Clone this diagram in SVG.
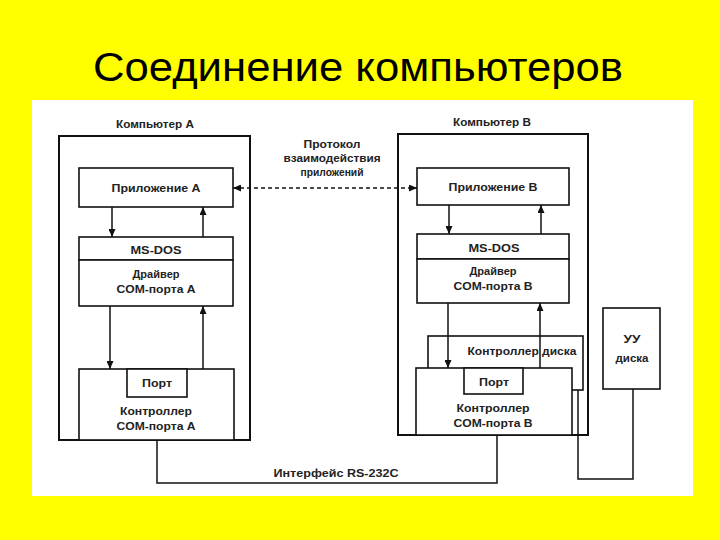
<svg xmlns="http://www.w3.org/2000/svg" width="720" height="540" viewBox="0 0 720 540">
<defs>
<marker id="ah" markerUnits="userSpaceOnUse" markerWidth="9" markerHeight="7" refX="8" refY="3.5" orient="auto-start-reverse">
<path d="M0,0 L8,3.5 L0,7 z" fill="#111"/>
</marker>
</defs>
<style>
.bg{fill:#FFFF00}
.panel{fill:#FFFFFF}
.title{font-family:"Liberation Sans",Arial,sans-serif;font-size:40px;fill:#000}
.outer{fill:none;stroke:#111;stroke-width:2}
.box{fill:#FFFFFF;stroke:#111;stroke-width:1.6}
.t{font-family:"Liberation Sans",Arial,sans-serif;font-size:11.5px;font-weight:bold;fill:#222;text-anchor:middle}
.c{fill:none;stroke:#111;stroke-width:1.5}
.arr{marker-end:url(#ah)}
.dash{stroke-dasharray:4 3;marker-start:url(#ah);marker-end:url(#ah)}
</style>
<rect class="bg" x="0" y="0" width="720" height="540"/>
<text class="title" x="93" y="81" textLength="530" lengthAdjust="spacingAndGlyphs">Соединение компьютеров</text>
<rect class="panel" x="32" y="100" width="661" height="396"/>

<g id="computerA">
<rect class="outer" x="59" y="136" width="191" height="304"/>
<text class="t" x="155" y="128" textLength="78" lengthAdjust="spacingAndGlyphs">Компьютер А</text>
</g>
<g id="appA">
<rect class="box" x="79" y="168" width="154" height="39"/>
<text class="t" x="156" y="192" textLength="89" lengthAdjust="spacingAndGlyphs">Приложение А</text>
</g>
<g id="dosA">
<rect class="box" x="79" y="237" width="154" height="23"/>
<text class="t" x="156" y="254" textLength="51" lengthAdjust="spacingAndGlyphs">MS-DOS</text>
</g>
<g id="driverA">
<rect class="box" x="79" y="260" width="154" height="46"/>
<text class="t" x="156" y="278" textLength="47" lengthAdjust="spacingAndGlyphs">Драйвер</text>
<text class="t" x="156" y="293" textLength="79" lengthAdjust="spacingAndGlyphs">COM-порта А</text>
</g>
<g id="controllerA">
<rect class="box" x="79" y="369" width="155" height="71"/>
<text class="t" x="156" y="415" textLength="72" lengthAdjust="spacingAndGlyphs">Контроллер</text>
<text class="t" x="156" y="430" textLength="79" lengthAdjust="spacingAndGlyphs">COM-порта А</text>
</g>
<g id="portA">
<rect class="box" x="127" y="369" width="60" height="28"/>
<text class="t" x="157" y="387" textLength="30" lengthAdjust="spacingAndGlyphs">Порт</text>
</g>

<g id="computerB">
<rect class="outer" x="398" y="134" width="190" height="301"/>
<text class="t" x="492" y="126" textLength="78" lengthAdjust="spacingAndGlyphs">Компьютер В</text>
</g>
<g id="appB">
<rect class="box" x="417" y="168" width="152" height="37"/>
<text class="t" x="493" y="191" textLength="89" lengthAdjust="spacingAndGlyphs">Приложение В</text>
</g>
<g id="dosB">
<rect class="box" x="417" y="234" width="152" height="25"/>
<text class="t" x="494" y="252" textLength="51" lengthAdjust="spacingAndGlyphs">MS-DOS</text>
</g>
<g id="driverB">
<rect class="box" x="417" y="259" width="152" height="44"/>
<text class="t" x="493" y="275" textLength="47" lengthAdjust="spacingAndGlyphs">Драйвер</text>
<text class="t" x="493" y="290" textLength="79" lengthAdjust="spacingAndGlyphs">COM-порта В</text>
</g>
<g id="diskController">
<rect class="box" x="428" y="336" width="155" height="54"/>
<text class="t" x="522" y="355" textLength="109" lengthAdjust="spacingAndGlyphs">Контроллер диска</text>
</g>
<g id="controllerB">
<rect class="box" x="416" y="368" width="156" height="67"/>
<text class="t" x="493" y="412" textLength="73" lengthAdjust="spacingAndGlyphs">Контроллер</text>
<text class="t" x="493" y="427" textLength="79" lengthAdjust="spacingAndGlyphs">COM-порта В</text>
</g>
<g id="portB">
<rect class="box" x="464" y="368" width="59" height="26"/>
<text class="t" x="494" y="386" textLength="30" lengthAdjust="spacingAndGlyphs">Порт</text>
</g>
<g id="diskUnit">
<rect class="box" x="603" y="308" width="57" height="81"/>
<text class="t" x="632" y="343" textLength="17" lengthAdjust="spacingAndGlyphs">УУ</text>
<text class="t" x="632" y="362" textLength="33" lengthAdjust="spacingAndGlyphs">диска</text>
</g>

<g id="labels">
<text class="t" x="332" y="148" textLength="57" lengthAdjust="spacingAndGlyphs">Протокол</text>
<text class="t" x="332" y="162" textLength="97" lengthAdjust="spacingAndGlyphs">взаимодействия</text>
<text class="t" x="332" y="176" textLength="63" lengthAdjust="spacingAndGlyphs">приложений</text>
<text class="t" x="336" y="477" textLength="125" lengthAdjust="spacingAndGlyphs">Интерфейс RS-232C</text>
</g>

<g id="connectors">
<line class="c arr" x1="112" y1="207" x2="112" y2="237"/>
<line class="c arr" x1="203" y1="237" x2="203" y2="207"/>
<line class="c arr" x1="110" y1="306" x2="110" y2="369"/>
<line class="c arr" x1="203" y1="369" x2="203" y2="306"/>
<line class="c arr" x1="449" y1="205" x2="449" y2="234"/>
<line class="c arr" x1="541" y1="234" x2="541" y2="205"/>
<line class="c arr" x1="448" y1="303" x2="448" y2="368"/>
<line class="c arr" x1="540" y1="368" x2="540" y2="303"/>
<line class="c dash" x1="233" y1="188" x2="417" y2="188"/>
<polyline class="c" points="157,440 157,483 497,483 497,435"/>
<polyline class="c" points="578,390 578,479 633,479 633,389"/>
</g>
</svg>
